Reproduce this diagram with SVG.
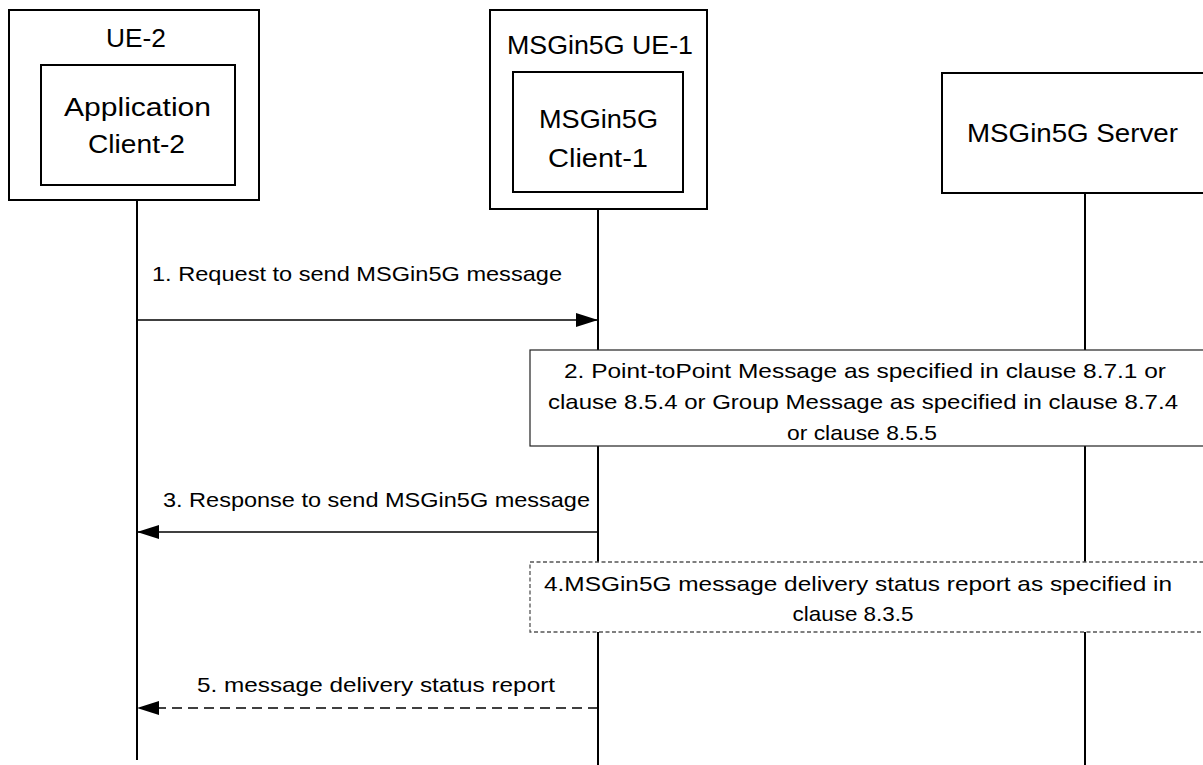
<svg xmlns="http://www.w3.org/2000/svg" width="1203" height="765" viewBox="0 0 1203 765">
<style>
rect{fill:#fff;stroke:#000;stroke-width:2}
.d{stroke-dasharray:4 2.5;stroke:#555;stroke-width:1.3}
.life{stroke:#000;stroke-width:2}
.arr{stroke:#000;stroke-width:1.5;fill:none}
.dash{stroke-dasharray:10 6}
text{font-family:"Liberation Sans",Arial,sans-serif;fill:#000;text-anchor:middle}
.h{font-size:25px}
.m{font-size:21px}
.b{font-size:21px}
</style>
<defs>
<marker id="ah" viewBox="0 0 22 14" refX="22" refY="7" markerWidth="22" markerHeight="14" markerUnits="userSpaceOnUse" orient="auto">
<path d="M0,0 L22,7 L0,14 Z" fill="#000"/>
</marker>
</defs>
<g id="lifelines">
<line class="life" x1="137" y1="200" x2="137" y2="760"/>
<line class="life" x1="598" y1="192" x2="598" y2="765"/>
<line class="life" x1="1085" y1="193" x2="1085" y2="765"/>
</g>
<g id="ue2">
<rect x="9" y="10" width="250" height="190"/>
<text class="h" x="136" y="47" textLength="60" lengthAdjust="spacingAndGlyphs">UE-2</text>
<rect x="41" y="65" width="194" height="120"/>
<text class="h" x="137.5" y="116" textLength="147" lengthAdjust="spacingAndGlyphs">Application</text>
<text class="h" x="136.5" y="153" textLength="97" lengthAdjust="spacingAndGlyphs">Client-2</text>
</g>
<g id="ue1">
<rect x="490" y="10" width="217" height="199"/>
<text class="h" x="600" y="54" textLength="186" lengthAdjust="spacingAndGlyphs">MSGin5G UE-1</text>
<rect x="513" y="72" width="170" height="120"/>
<text class="h" x="598.5" y="128" textLength="119" lengthAdjust="spacingAndGlyphs">MSGin5G</text>
<text class="h" x="598" y="167" textLength="100" lengthAdjust="spacingAndGlyphs">Client-1</text>
</g>
<g id="server">
<rect x="942" y="73" width="270" height="120"/>
<text class="h" x="1072.5" y="142" textLength="211" lengthAdjust="spacingAndGlyphs">MSGin5G Server</text>
</g>
<g id="step2">
<rect x="530" y="350" width="684" height="96" style="stroke-width:1.2;stroke:#222"/>
<text class="b" x="865" y="378" textLength="602" lengthAdjust="spacingAndGlyphs">2. Point-toPoint Message as specified in clause 8.7.1 or</text>
<text class="b" x="863" y="409" textLength="630" lengthAdjust="spacingAndGlyphs">clause 8.5.4 or Group Message as specified in clause 8.7.4</text>
<text class="b" x="862" y="440" textLength="150" lengthAdjust="spacingAndGlyphs">or clause 8.5.5</text>
</g>
<g id="step4">
<rect class="d" x="530" y="562" width="684" height="70"/>
<text class="b" x="858" y="591" textLength="628" lengthAdjust="spacingAndGlyphs">4.MSGin5G message delivery status report as specified in</text>
<text class="b" x="853" y="621" textLength="121" lengthAdjust="spacingAndGlyphs">clause 8.3.5</text>
</g>
<g id="connectors">
<line class="arr" x1="137" y1="320" x2="598" y2="320" marker-end="url(#ah)"/>
<text class="m" x="357" y="281" textLength="410" lengthAdjust="spacingAndGlyphs">1. Request to send MSGin5G message</text>
<line class="arr" x1="598" y1="532" x2="137" y2="532" marker-end="url(#ah)"/>
<text class="m" x="376.5" y="507" textLength="427" lengthAdjust="spacingAndGlyphs">3. Response to send MSGin5G message</text>
<line class="arr dash" x1="598" y1="708" x2="137" y2="708" marker-end="url(#ah)"/>
<text class="m" x="376" y="692" textLength="358" lengthAdjust="spacingAndGlyphs">5. message delivery status report</text>
</g>
</svg>
